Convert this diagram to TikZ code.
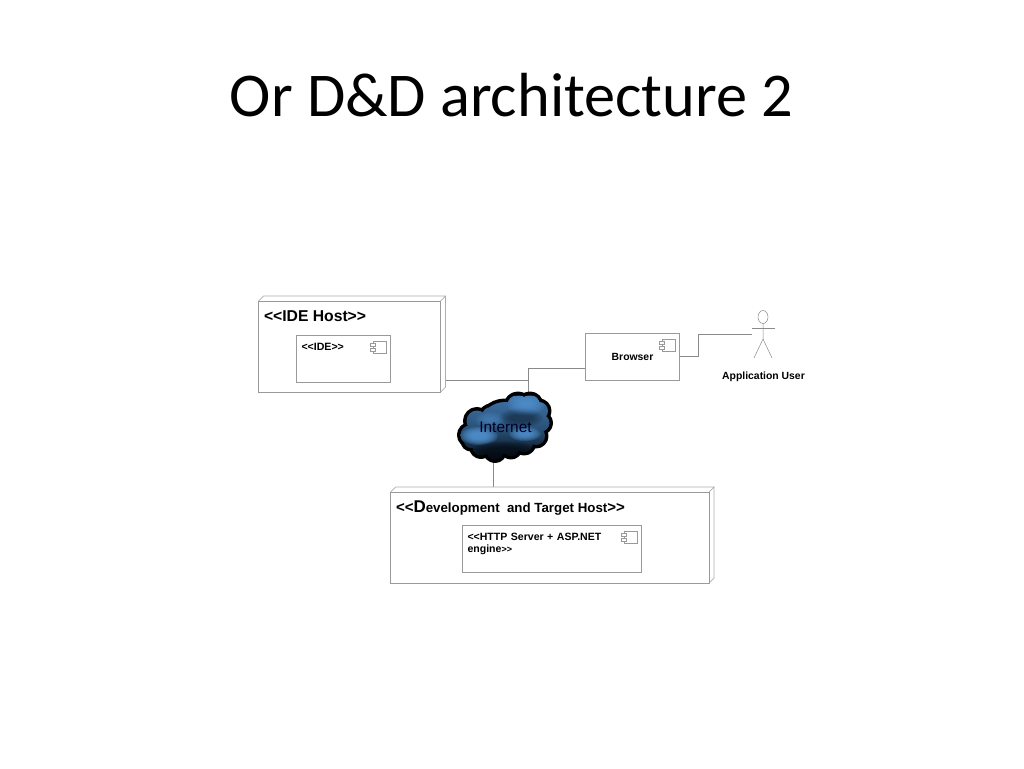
\documentclass[tikz,border=0pt]{standalone}
\usepackage{fontspec}
\setmainfont{Liberation Sans}
\newfontfamily\titlefont{Carlito}
\usetikzlibrary{calc,shapes.geometric}
\definecolor{linegrey}{HTML}{9A9A9A}
\definecolor{darkgrey}{HTML}{8A8A8A}
\definecolor{cloudtop}{HTML}{3F72A6}
\definecolor{cloudmid}{HTML}{2A5279}
\definecolor{cloudlow}{HTML}{040A12}
\definecolor{puff}{HTML}{5598D8}
\tikzset{
  x=1pt,y=-1pt,
  boxline/.style={draw=linegrey,line width=0.7pt},
  conn/.style={draw=darkgrey,line width=0.7pt},
  hostbox/.style={boxline,fill=white,rectangle,inner sep=0pt,outer sep=0pt},
  labeltext/.style={font=\bfseries,inner sep=0pt,outer sep=0pt,text=black,align=left},
}
\begin{document}
\begin{tikzpicture}
\useasboundingbox (0,0) rectangle (1024,768);
\node[font=\titlefont\fontsize{62.3}{66}\selectfont,inner sep=0pt,anchor=base] (title) at (511.5,116) {Or D\&D architecture 2};

\node[hostbox,minimum width=182pt,minimum height=91pt,anchor=north west] (idehost) at (258.5,301) {};
\node[hostbox,minimum width=94.5pt,minimum height=47.5pt,anchor=north west] (ide) at (296,335) {};
\node[hostbox,minimum width=94.5pt,minimum height=47.5pt,anchor=north west] (browser) at (585,333) {};
\node[hostbox,minimum width=318.5pt,minimum height=91pt,anchor=north west] (devhost) at (390.5,492) {};
\node[hostbox,minimum width=179.5pt,minimum height=47.5pt,anchor=north west] (http) at (462,525) {};

% 3D faces
\draw[boxline,draw=linegrey!80] (idehost.north west) -- ++(5,-5) -- ++(182,0) -- (idehost.north east);
\draw[boxline,draw=linegrey!80] ($(idehost.north east)+(5,-5)$) -- ++(0,91) -- (idehost.south east);
\draw[boxline,draw=linegrey!80] (devhost.north west) -- ++(5,-5) -- ++(318.5,0) -- (devhost.north east);
\draw[boxline,draw=linegrey!80] ($(devhost.north east)+(5,-5)$) -- ++(0,91) -- (devhost.south east);

% component icons
\foreach \n in {ide,browser,http}{
  \draw[boxline,line width=0.5pt] ($(\n.north east)+(-17,6)$) rectangle ++(13,12);
  \draw[boxline,line width=0.5pt,fill=white] ($(\n.north east)+(-20,8)$) rectangle ++(5,3);
  \draw[boxline,line width=0.5pt,fill=white] ($(\n.north east)+(-20,13)$) rectangle ++(5,3);
}

% connectors
\coordinate (cloudtopc) at (528,393);
\coordinate (cloudbot) at (493,462);
\coordinate (junction) at (528,380);
\coordinate (actorhand) at (752,334);
\coordinate (bend) at (698,334);
\draw[conn] (446,380) -- (junction) -- (cloudtopc);
\draw[conn] (585,368) -- (528,368) -- (junction);
\draw[conn] (browser.east) -| (bend) -- (actorhand);
\draw[conn] (cloudbot) -- (493,487);

% cloud
\fill[black,draw=black,line width=7pt,line join=round]
  (470,435) circle [radius=9.5] (477,421) circle [radius=10.5] (491,416) circle [radius=9]
  (504,410) circle [radius=7.5] (518,406) circle [radius=11] (530,405) circle [radius=10]
  (539,411) circle [radius=9] (541,423) circle [radius=8.5] (536,436) circle [radius=9]
  (524,443) circle [radius=9] (511,448) circle [radius=8] (495,451) circle [radius=8.5]
  (481,447) circle [radius=8.5] (471,441) circle [radius=7] (505,428) circle [radius=26]
  (525,422) circle [radius=18] (485,433) circle [radius=17];
\begin{scope}
  \clip
  (470,435) circle [radius=9.5] (477,421) circle [radius=10.5] (491,416) circle [radius=9]
  (504,410) circle [radius=7.5] (518,406) circle [radius=11] (530,405) circle [radius=10]
  (539,411) circle [radius=9] (541,423) circle [radius=8.5] (536,436) circle [radius=9]
  (524,443) circle [radius=9] (511,448) circle [radius=8] (495,451) circle [radius=8.5]
  (481,447) circle [radius=8.5] (471,441) circle [radius=7] (505,428) circle [radius=26]
  (525,422) circle [radius=18] (485,433) circle [radius=17];
  \fill[top color=cloudtop,bottom color=cloudlow,middle color=cloudmid] (450,396) rectangle (560,460);
  \foreach \k in {1,...,6}{
    \fill[cloudlow,opacity=.08] (521,418) ellipse [x radius=24-2*\k,y radius=11-1.2*\k];
    \fill[puff,opacity=.18] (526,404) ellipse [x radius=21-2.4*\k,y radius=13-1.7*\k];
    \fill[puff,opacity=.26] (479,436) ellipse [x radius=21-2.2*\k,y radius=10-1.1*\k];
    \fill[puff,opacity=.22] (525,434) ellipse [x radius=18-2*\k,y radius=8-.9*\k];
    \fill[puff,opacity=.10] (490,420) ellipse [x radius=17-2*\k,y radius=9-1.1*\k];
    \fill[cloudlow,opacity=.16] (505,452) ellipse [x radius=38-3*\k,y radius=12-1.2*\k];
  }
\end{scope}
\node[font=\fontsize{15.4}{17}\selectfont,text=black!85!blue,inner sep=0pt] (cloudlabel) at (505.5,427) {Internet};

% actor
\node[draw=darkgrey,line width=0.5pt,ellipse,minimum width=10pt,minimum height=13pt,inner sep=0pt] (head) at (763,317) {};
\coordinate (hip) at (763,339);
\coordinate (footl) at (754,358);
\coordinate (footr) at (772,358);
\coordinate (handl) at (752,328);
\coordinate (handr) at (775,328);
\draw[conn,line width=0.5pt] (head.south) -- (hip) -- (footl);
\draw[conn,line width=0.5pt] (hip) -- (footr);
\draw[conn,line width=0.5pt] (handl) -- (handr);

% labels
\node[labeltext,anchor=base west,font=\bfseries\fontsize{15.7}{17}\selectfont] (l1) at (264,321.5) {<{}<IDE Host>{}>};
\node[labeltext,anchor=base west,font=\bfseries\fontsize{10.6}{12}\selectfont] (l2) at (301.5,350.5) {<{}<IDE>{}>};
\node[labeltext,anchor=center,font=\bfseries\fontsize{10.4}{12}\selectfont] (l3) at (632.5,356.5) {Browser};
\node[labeltext,anchor=center,font=\bfseries\fontsize{10.4}{12}\selectfont] (l4) at (763.5,376.5) {Application User};
\node[labeltext,anchor=base west,font=\bfseries\fontsize{13.3}{15}\selectfont] (l5) at (396,512) {{\fontsize{15}{15}\selectfont<{}<}{\fontsize{17}{15}\selectfont D}evelopment\ \ and Target Host{\fontsize{15}{15}\selectfont>{}>}};
\node[labeltext,anchor=base west,font=\bfseries\fontsize{10.55}{12.6}\selectfont,text width=150pt] (l6) at (467.5,540) {<{}<HTTP Server + ASP.NET\\engine{\fontsize{9}{9}\selectfont>{}>}};
\end{tikzpicture}
\end{document}
